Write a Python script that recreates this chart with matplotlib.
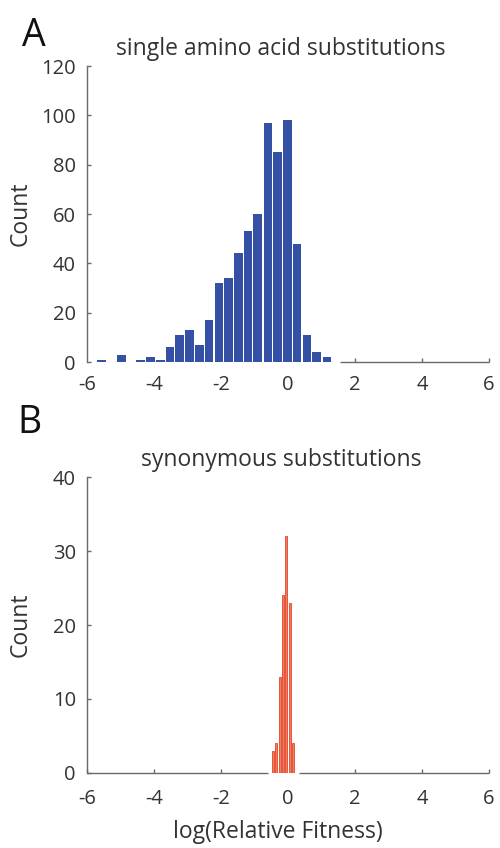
import matplotlib
matplotlib.use("Agg")
import matplotlib.pyplot as plt

# panel A: single amino acid substitutions (bin centres, counts)
aa_centers = [-5.56, -5.27, -4.98, -4.69, -4.40, -4.11, -3.81, -3.52, -3.23, -2.94,
              -2.65, -2.36, -2.06, -1.77, -1.48, -1.19, -0.90, -0.60, -0.31, -0.02,
              0.27, 0.57, 0.86, 1.16]
aa_counts = [1, 0, 3, 0, 1, 2, 1, 6, 11, 13,
             7, 17, 32, 34, 44, 53, 60, 97, 85, 98,
             48, 11, 4, 2]

# panel B: synonymous substitutions
syn_centers = [-0.45, -0.35, -0.25, -0.15, -0.05, 0.05, 0.15]
syn_counts = [3, 4, 13, 24, 32, 23, 4]

x_ticks = [-6, -4, -2, 0, 2, 4, 6]
aa_yticks = [0, 20, 40, 60, 80, 100, 120]
syn_yticks = [0, 10, 20, 30, 40]

plt.rcParams['font.family'] = ['Open Sans', 'DejaVu Sans']
txt = '#333333'
axc = '#6a6a6a'

fig = plt.figure(figsize=(5, 8.48), dpi=100)
ax1 = fig.add_axes([0.174, 0.5731, 0.804, 0.349])
ax2 = fig.add_axes([0.174, 0.0888, 0.804, 0.3483])


def style(ax, yticks, ylim, xpad):
    for s in ['top', 'right', 'bottom']:
        ax.spines[s].set_visible(False)
    ax.spines['left'].set_color(axc)
    ax.spines['left'].set_linewidth(1.0)
    ax.set_xlim(-6, 6)
    ax.set_ylim(*ylim)
    ax.set_xticks(x_ticks)
    ax.set_xticklabels([str(t) for t in x_ticks])
    ax.set_yticks(yticks)
    ax.tick_params(axis='both', direction='in', length=3, width=1.0,
                   color=axc, labelcolor=txt, labelsize=14.5)
    ax.tick_params(axis='x', pad=xpad)
    ax.tick_params(axis='y', pad=8)
    ax.set_ylabel('Count', fontsize=16.5, color=txt)
    ax.yaxis.set_label_coords(-0.135, 0.5)


style(ax1, aa_yticks, (0, 120), 9)
style(ax2, syn_yticks, (0, 40), 12)

ax1.bar(aa_centers, aa_counts, width=0.26, color='#3451a5', edgecolor='none', zorder=3)
ax2.bar(syn_centers, syn_counts, width=0.065, color='#f47c5c', edgecolor='#e0452b',
        linewidth=0.6, zorder=3)

# x axis lines are interrupted underneath the histograms
ax1.hlines(0, 1.55, 6, color=axc, lw=1.0, clip_on=False, zorder=2)
ax2.hlines([0, 0], [-6, 0.32], [-0.6, 6], color=axc, lw=1.0, clip_on=False, zorder=2)
for t, tick in zip(x_ticks, ax1.xaxis.get_major_ticks()):
    if t < 1.55:
        tick.tick1line.set_visible(False)
for t, tick in zip(x_ticks, ax2.xaxis.get_major_ticks()):
    if -0.6 < t < 0.32:
        tick.tick1line.set_visible(False)

ax1.set_title('single amino acid substitutions', fontsize=16.5, color=txt, pad=8, x=0.483)
ax2.set_title('synonymous substitutions', fontsize=16.5, color=txt, pad=8.5, x=0.483)
ax2.set_xlabel('log(Relative Fitness)', fontsize=16.5, color=txt)
ax2.xaxis.set_label_coords(0.474, -0.16)

fig.text(0.044, 0.957, 'A', fontsize=27, color='#111111', va='center')
fig.text(0.034, 0.501, 'B', fontsize=27, color='#111111', va='center')

fig.savefig('out.png', dpi=100)
